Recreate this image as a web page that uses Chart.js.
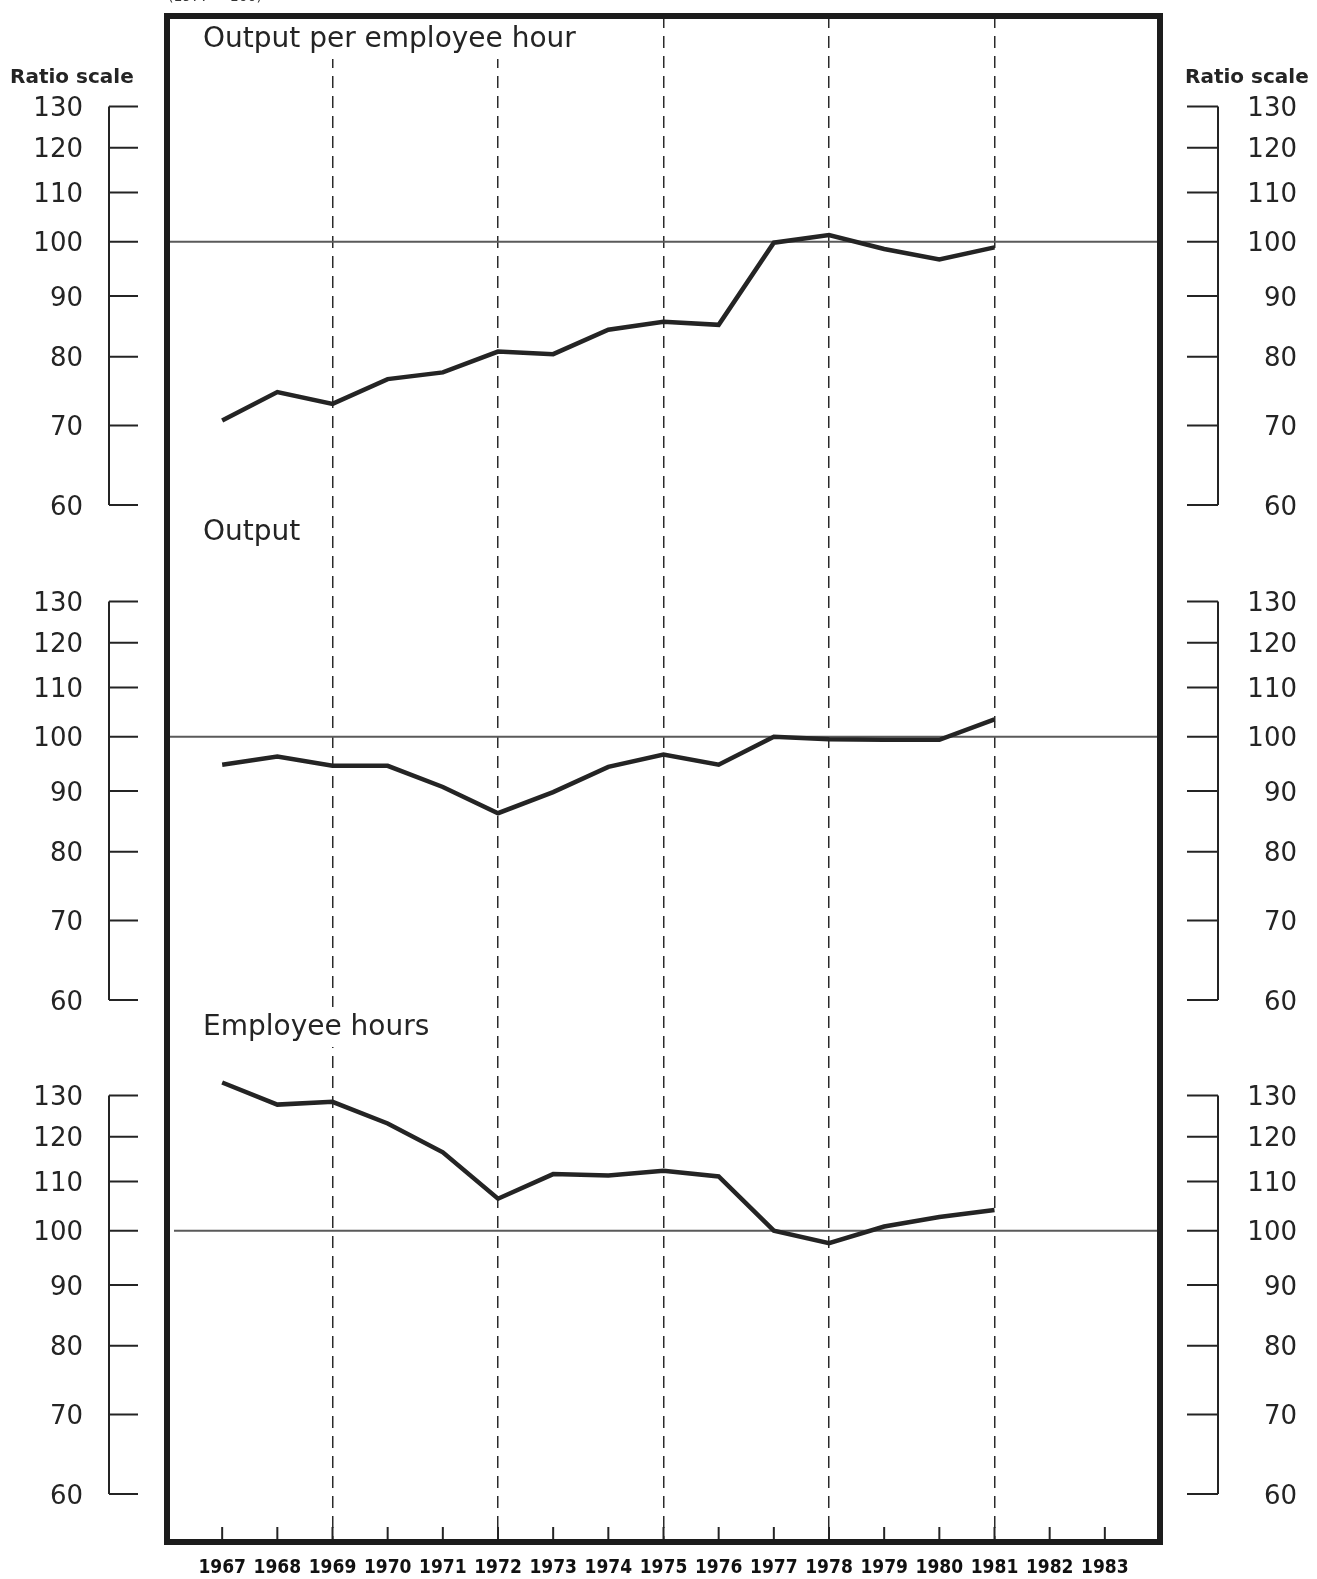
<!DOCTYPE html>
<html>
<head>
<meta charset="utf-8">
<title>Output per employee hour, output and employee hours</title>
<script src="https://cdn.jsdelivr.net/npm/chart.js@4.4.1/dist/chart.umd.min.js"></script>
<style>
  html, body { margin: 0; padding: 0; background: #fff; }
  #wrap { width: 1317px; height: 1579px; position: relative; }
</style>
</head>
<body>
<div id="wrap"><canvas id="chart"></canvas></div>
<script>
// ---- data (index, 1977 = 100) ----
const years = [1967, 1968, 1969, 1970, 1971, 1972, 1973, 1974, 1975, 1976, 1977, 1978, 1979, 1980, 1981];
const outputPerHour = [70.7, 74.7, 73.0, 76.6, 77.6, 80.8, 80.4, 84.3, 85.6, 85.1, 99.8, 101.3, 98.6, 96.6, 98.9];
const output = [94.7, 96.2, 94.5, 94.5, 90.7, 86.2, 89.8, 94.3, 96.6, 94.7, 100.0, 99.5, 99.4, 99.4, 103.4];
const employeeHours = [133.3, 127.7, 128.4, 123.1, 116.4, 106.4, 111.6, 111.3, 112.3, 111.1, 100.0, 97.6, 100.8, 102.7, 104.1];

const tickYears = [1967, 1968, 1969, 1970, 1971, 1972, 1973, 1974, 1975, 1976, 1977, 1978, 1979, 1980, 1981, 1982, 1983];
const dashedYears = [1969, 1972, 1975, 1978, 1981];
const ratioTicks = [60, 70, 80, 90, 100, 110, 120, 130];
const panelTitles = ['Output per employee hour', 'Output', 'Employee hours'];
const baseValue = 100;

// ---- layout ----
const W = 1317, H = 1579;
const FRAME = { left: 167, right: 1160, top: 16, bottom: 1542 };
const PX_PER_DECADE = 1187;          // log scale: pixels per factor of 10
const PANEL_Y60 = [505, 1000, 1494]; // where 60 sits on each panel
const INK = '#242424';

// y range of each panel so that all three share the same ratio scale
function panelBounds(y60) {
    return {
        min: 60 / Math.pow(10, (FRAME.bottom - y60) / PX_PER_DECADE),
        max: 60 * Math.pow(10, (y60 - FRAME.top) / PX_PER_DECADE)
    };
}

function hasFont(name) {
    const c = document.createElement('canvas').getContext('2d');
    c.font = '40px monospace';
    const a = c.measureText('1967 1983').width;
    c.font = '40px "' + name + '", monospace';
    return c.measureText('1967 1983').width !== a;
}

const yearFont = hasFont('Liberation Sans Narrow')
    ? { family: '"Liberation Sans Narrow"', size: 24, weight: 'bold' }
    : { family: '"DejaVu Sans Condensed", "DejaVu Sans"', size: 19, weight: 'bold' };

const seriesList = [outputPerHour, output, employeeHours];

const datasets = seriesList.map((vals, i) => ({
    label: panelTitles[i],
    data: years.map((yr, j) => ({ x: yr, y: vals[j] })),
    yAxisID: 'y' + (i + 1),
    borderColor: INK,
    borderWidth: 4.5,
    pointRadius: 0,
    tension: 0,
    fill: false
}));

const yScales = {};
PANEL_Y60.forEach((y60, i) => {
    const b = panelBounds(y60);
    yScales['y' + (i + 1)] = {
        type: 'logarithmic',
        display: false,
        bounds: 'data',
        min: b.min,
        max: b.max
    };
});

// extra drawing: frame, reference lines, ratio-scale brackets, titles
const decorPlugin = {
    id: 'decor',
    beforeDatasetsDraw(chart) {
        const ctx = chart.ctx;
        const area = chart.chartArea;
        ctx.save();
        ctx.strokeStyle = '#5a5a5a';
        ctx.lineWidth = 2;
        PANEL_Y60.forEach((_, i) => {
            const y = chart.scales['y' + (i + 1)].getPixelForValue(baseValue);
            const x0 = i === 2 ? area.left + 7 : area.left;
            ctx.beginPath();
            ctx.moveTo(x0, y);
            ctx.lineTo(area.right, y);
            ctx.stroke();
        });
        ctx.restore();
    },
    afterDraw(chart) {
        const ctx = chart.ctx;
        const area = chart.chartArea;
        const xs = chart.scales.x;
        ctx.save();

        // panel titles on white, hiding the dashed lines behind them
        ctx.font = '28px "DejaVu Sans"';
        ctx.textBaseline = 'middle';
        ctx.textAlign = 'left';
        const titleY = [40, 533, 1028];
        panelTitles.forEach((t, i) => {
            const w = ctx.measureText(t).width;
            ctx.fillStyle = '#fff';
            ctx.fillRect(200, titleY[i] - 21, w + 8, 40);
            ctx.fillStyle = INK;
            ctx.fillText(t, 203, titleY[i]);
        });

        // small year ticks standing on the bottom of the frame
        ctx.strokeStyle = INK;
        ctx.lineWidth = 2;
        tickYears.forEach(yr => {
            const x = xs.getPixelForValue(yr);
            ctx.beginPath();
            ctx.moveTo(x, area.bottom);
            ctx.lineTo(x, area.bottom - 15);
            ctx.stroke();
        });

        // frame
        ctx.lineWidth = 6;
        ctx.strokeStyle = '#1c1c1c';
        ctx.strokeRect(area.left, area.top, area.right - area.left, area.bottom - area.top);

        // ratio scale brackets, both sides
        ctx.lineWidth = 2;
        ctx.strokeStyle = INK;
        ctx.fillStyle = INK;
        ctx.font = '26px "DejaVu Sans"';
        ctx.textBaseline = 'middle';
        PANEL_Y60.forEach((_, i) => {
            const s = chart.scales['y' + (i + 1)];
            const yTop = s.getPixelForValue(ratioTicks[ratioTicks.length - 1]);
            const yBot = s.getPixelForValue(ratioTicks[0]);
            ctx.beginPath();
            ctx.moveTo(109, yTop); ctx.lineTo(109, yBot);
            ctx.moveTo(1218, yTop); ctx.lineTo(1218, yBot);
            ctx.stroke();
            ratioTicks.forEach(v => {
                const y = s.getPixelForValue(v);
                ctx.beginPath();
                ctx.moveTo(109, y); ctx.lineTo(138, y);
                ctx.moveTo(1187, y); ctx.lineTo(1218, y);
                ctx.stroke();
                ctx.textAlign = 'right';
                ctx.fillText(String(v), 83, y + 3);
                ctx.fillText(String(v), 1297, y + 3);
            });
        });

        ctx.font = 'bold 20px "DejaVu Sans"';
        ctx.textAlign = 'left';
        ctx.fillText('Ratio scale', 10, 78);
        ctx.fillText('Ratio scale', 1185, 78);

        // caption, cut off by the top edge
        ctx.font = '14px "DejaVu Sans"';
        ctx.textBaseline = 'alphabetic';
        ctx.fillStyle = '#333';
        ctx.fillText('(1977 = 100)', 168, 1);

        ctx.restore();
    }
};

new Chart(document.getElementById('chart'), {
    type: 'line',
    data: { datasets },
    options: {
        responsive: true,
        maintainAspectRatio: false,
        animation: false,
        layout: {
            padding: { left: FRAME.left, right: W - FRAME.right, top: FRAME.top, bottom: 0 }
        },
        plugins: {
            legend: { display: false },
            tooltip: { enabled: false }
        },
        scales: {
            x: {
                type: 'linear',
                min: 1966,
                max: 1984,
                afterFit: axis => { axis.height = H - FRAME.bottom; },
                border: { display: false, dash: [12, 8] },
                grid: {
                    drawTicks: false,
                    lineWidth: 1.5,
                    color: c => (c.tick && dashedYears.includes(c.tick.value)) ? '#2a2a2a' : 'rgba(0,0,0,0)'
                },
                ticks: {
                    stepSize: 1,
                    autoSkip: false,
                    maxRotation: 0,
                    padding: 15,
                    color: '#111',
                    font: yearFont,
                    callback: v => tickYears.includes(v) ? String(v) : ''
                }
            },
            ...yScales
        }
    },
    plugins: [decorPlugin]
});
</script>
</body>
</html>
